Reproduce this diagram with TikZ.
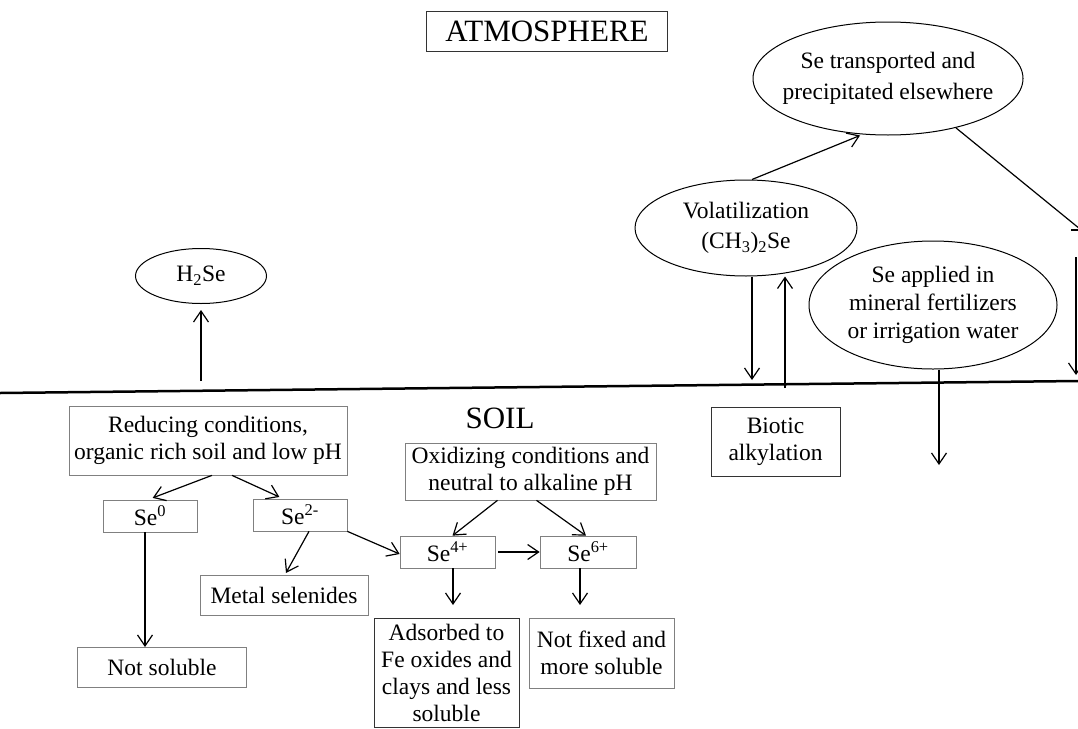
\documentclass[tikz,border=0pt]{standalone}
\usepackage{fontspec}
\setmainfont{Liberation Serif}
\usetikzlibrary{shapes.geometric,arrows.meta}

\tikzset{
  scatola/.style={draw=black!50, line width=0.7pt, rectangle, inner sep=0pt, align=center, font=\fontsize{23.5}{27}\selectfont},
  ovale/.style={draw, ellipse, line width=1pt, inner sep=0pt},
  testo/.style={inner sep=0pt, align=center, font=\fontsize{23.5}{28}\selectfont},
  freccia/.style={line width=1.2pt, -{Straight Barb[length=11pt,width=15pt]}},
}

\begin{document}
\begin{tikzpicture}[x=1pt,y=-1pt]
            \useasboundingbox (0,0) rectangle (1078,728);
            % Atmosfera
            \node[scatola, draw=black!80, minimum width=241, minimum height=40, font=\fontsize{31}{33}\selectfont] (atm) at (547,31) {ATMOSPHERE};
            % Suolo (linea)
            \draw[line width=2.5pt] (0,393) -- (1078,381);
            \node[testo, font=\fontsize{31}{33}\selectfont] (suolo) at (500,418) {SOIL};
            % Ellissi sopra il suolo
            \node[ovale, minimum width=131, minimum height=55] (h2se) at (201,276) {};
            \node[testo] (h2setxt) at (h2se) {H\textsubscript{2}Se};
            \node[ovale, minimum width=222, minimum height=96] (vol) at (746,228) {};
            \node[testo, font=\fontsize{23.5}{30}\selectfont] (voltxt) at (vol) {Volatilization\\(CH\textsubscript{3})\textsubscript{2}Se};
            \node[ovale, minimum width=270, minimum height=113] (trasp) at (888,78.5) {};
            \node[testo, font=\fontsize{23.5}{31}\selectfont] (trasptxt) at (trasp) {Se transported and\\precipitated elsewhere};
            \node[ovale, minimum width=248, minimum height=128] (appl) at (933,305) {};
            \node[testo] (appltxt) at (appl) {Se applied in\\mineral fertilizers\\or irrigation water};
            % Scatole sotto il suolo
            \node[scatola, minimum width=278, minimum height=69] (red) at (208,440.5) {Reducing conditions,\\organic rich soil and low pH};
            \node[scatola, minimum width=94, minimum height=32] (se0) at (150,516) {Se\textsuperscript{0}};
            \node[scatola, minimum width=94, minimum height=32] (se2) at (300,515) {Se\textsuperscript{2-}};
            \node[scatola, minimum width=168, minimum height=40] (metal) at (284,595) {Metal selenides};
            \node[scatola, minimum width=169, minimum height=40] (nonsol) at (162,667) {Not soluble};
            \node[scatola, minimum width=251, minimum height=57] (oss) at (530.5,471.5) {Oxidizing conditions and\\neutral to alkaline pH};
            \node[scatola, minimum width=95, minimum height=32] (se4) at (447.5,552) {Se\textsuperscript{4+}};
            \node[scatola, minimum width=96, minimum height=32] (se6) at (588,552) {Se\textsuperscript{6+}};
            \node[scatola, draw=black!80, minimum width=145, minimum height=109] (ads) at (446.5,672.5) {Adsorbed to\\Fe oxides and\\clays and less\\soluble};
            \node[scatola, minimum width=145, minimum height=70] (nonfix) at (601.5,653) {Not fixed and\\more soluble};
            \node[scatola, draw=black!80, minimum width=129, minimum height=69] (biot) at (775.5,441.5) {Biotic\\alkylation};
            % Estremi liberi delle frecce
            \coordinate (h2base) at (201,381);
            \coordinate (volgiu) at (752,380);
            \coordinate (volsu) at (785,388);
            \coordinate (bordo) at (1080,229);
            \coordinate (dxsu) at (1076,257);
            \coordinate (dxgiu) at (1076,375);
            \coordinate (applgiu) at (939,465);
            \coordinate (se0giu) at (145,647);
            \coordinate (se4giu) at (453,605);
            \coordinate (se6giu) at (580,605);
            % Frecce in atmosfera
            \draw[freccia, shorten >=6pt] (h2base) -- (h2base |- h2se.south);
            \draw[freccia] (vol.south -| volgiu) -- (volgiu);
            \draw[freccia] (volsu) -- (volsu |- vol.south);
            \draw[freccia] ([xshift=6]vol.north) -- ([xshift=-28]trasp.south);
            \draw[line width=1.2pt] (trasp.-36) -- (bordo);
            \draw[line width=1.2pt] (1071,230) -- (1080,230);
            \draw[freccia] (dxsu) -- (dxgiu);
            \draw[freccia] (appl.south -| applgiu) -- (applgiu);
            % Frecce nel suolo
            \draw[freccia, shorten >=5pt] ([xshift=4]red.south) -- ([xshift=-2]se0.north);
            \draw[freccia, shorten >=4pt] ([xshift=24]red.south) -- ([xshift=-17]se2.north);
            \draw[freccia] (se0.south -| se0giu) -- (se0giu);
            \draw[freccia, shorten >=2pt] ([xshift=9]se2.south) -- ([xshift=1]metal.north);
            \draw[freccia] (se2.south east) -- ([yshift=-2]se4.west);
            \draw[freccia] ([xshift=-33]oss.south) -- ([xshift=5]se4.north);
            \draw[freccia] ([xshift=6]oss.south) -- ([xshift=-2]se6.north);
            \draw[freccia] ([xshift=3]se4.east) -- (se4.east -| se6.west);
            \draw[freccia] (se4.south -| se4giu) -- (se4giu);
            \draw[freccia] (se6.south -| se6giu) -- (se6giu);
        \end{tikzpicture}
\end{document}
